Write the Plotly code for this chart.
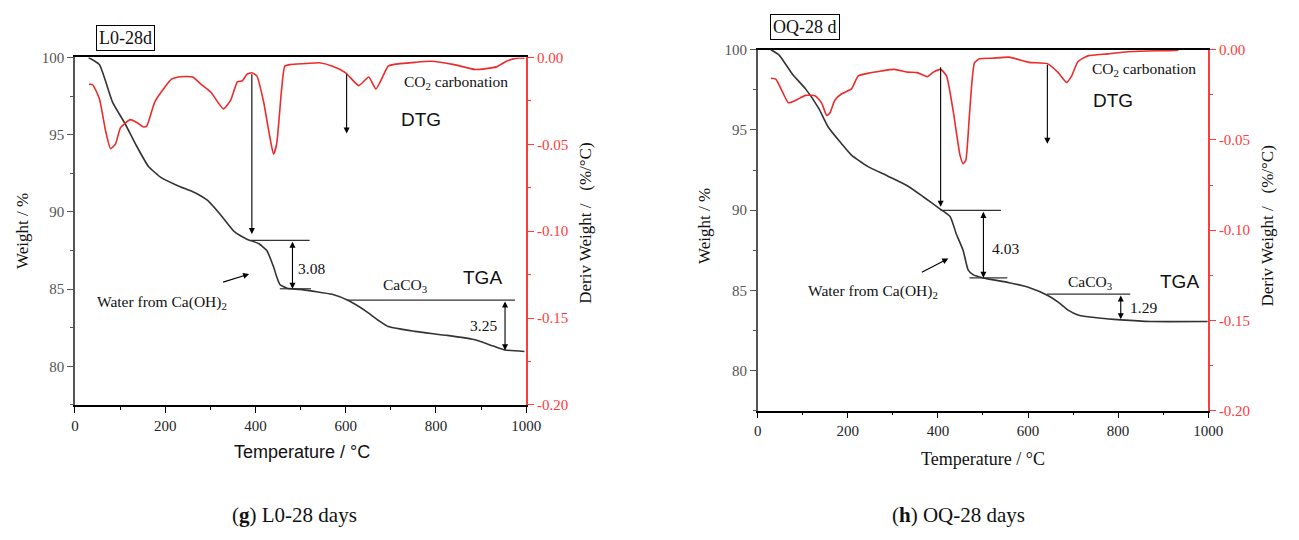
import plotly.graph_objects as go

# ---------------- data ----------------
L_tga_T = [30, 54, 83, 112, 134, 163, 192, 229, 265, 294, 323, 352, 381, 407, 425, 440, 447, 454, 470, 498, 530, 570, 607, 643, 672, 694, 753, 825, 884, 927, 953, 996]
L_tga_W = [100, 99.54, 97.13, 95.66, 94.41, 92.94, 92.2, 91.68, 91.26, 90.74, 89.8, 88.75, 88.23, 87.95, 87.5, 86.44, 85.8, 85.3, 85.05, 84.98, 84.85, 84.66, 84.24, 83.6, 82.98, 82.57, 82.26, 82.0, 81.73, 81.31, 81.06, 80.96]

L_dtg_T = [31, 39, 54, 68, 79, 90, 101, 123, 138, 152, 159, 177, 199, 214, 229, 261, 279, 301, 329, 345, 360, 371, 381, 392, 403, 418, 432, 440, 447, 458, 465, 476, 512, 541, 571, 600, 629, 651, 667, 694, 705, 753, 789, 840, 887, 934, 956, 978, 996]
L_dtg_D = [-0.0155, -0.0156, -0.0236, -0.0423, -0.0525, -0.0497, -0.0404, -0.0358, -0.0376, -0.0400, -0.0395, -0.0255, -0.0171, -0.0125, -0.0112, -0.0112, -0.0153, -0.0199, -0.0296, -0.0246, -0.0140, -0.0134, -0.0097, -0.0088, -0.0106, -0.0255, -0.0460, -0.0557, -0.0497, -0.0181, -0.0050, -0.0041, -0.0035, -0.0030, -0.0050, -0.0088, -0.0162, -0.0112, -0.0181, -0.0050, -0.0041, -0.0028, -0.0022, -0.0041, -0.0069, -0.0054, -0.0022, -0.0004, -0.0004]

R_tga_T = [29, 47, 77, 106, 135, 157, 186, 208, 244, 288, 332, 368, 405, 427, 441, 456, 467, 478, 500, 558, 602, 645, 667, 689, 711, 762, 806, 872, 999]
R_tga_W = [100, 99.68, 98.47, 97.56, 96.36, 95.15, 94.14, 93.43, 92.73, 92.13, 91.52, 90.82, 90.07, 89.61, 88.5, 87.49, 86.28, 85.98, 85.78, 85.48, 85.18, 84.67, 84.27, 83.77, 83.47, 83.26, 83.16, 83.06, 83.06]

R_dtg_T = [29, 40, 55, 68, 84, 106, 128, 142, 153, 160, 171, 186, 208, 223, 244, 274, 303, 332, 354, 376, 390, 406, 419, 434, 449, 456, 462, 470, 481, 492, 521, 558, 602, 643, 667, 686, 697, 711, 733, 777, 821, 864, 908, 934]
R_dtg_D = [-0.0158, -0.0163, -0.0235, -0.0294, -0.0280, -0.0253, -0.0256, -0.0297, -0.0364, -0.0351, -0.0280, -0.0244, -0.0217, -0.0145, -0.0131, -0.0118, -0.0109, -0.0124, -0.0127, -0.0149, -0.0124, -0.0109, -0.0145, -0.0342, -0.0584, -0.0632, -0.0611, -0.0360, -0.0074, -0.0050, -0.0047, -0.0041, -0.0070, -0.0077, -0.0127, -0.0181, -0.0145, -0.0065, -0.0034, -0.0023, -0.0011, -0.0007, -0.0005, -0.0002]

x_ticks = [0, 200, 400, 600, 800, 1000]
w_ticks = [80, 85, 90, 95, 100]
d_ticks = [0.0, -0.05, -0.10, -0.15, -0.20]
d_labels = ["0.00", "-0.05", "-0.10", "-0.15", "-0.20"]

# annotation values
L_ann = {"hl1": (390, 520, 88.16), "hl2": (454, 523, 85.02), "da1": (482, 88.16, 85.02, "3.08"),
         "hl3": (603, 975, 84.29), "da2": (953, 84.29, 81.04, "3.25"),
         "ar1": (392, 99.01, 88.56), "ar2": (602, 99.01, 95.08)}
R_ann = {"hl1": (406, 540, 89.99), "hl2": (470, 554, 85.78), "da1": (501, 89.99, 85.78, "4.03"),
         "hl3": (642, 827, 84.77), "da2": (806, 84.77, 83.2, "1.29"),
         "ar1": (406, 99.0, 90.21), "ar2": (643, 99.16, 94.14)}

SERIF = "Liberation Serif"
SANS = "Liberation Sans"
RED = "#ff3a3a"
CURVE_RED = "#ee2a2a"
DARK = "#333333"

fig = go.Figure()
fig.add_trace(go.Scatter(x=L_tga_T, y=L_tga_W, mode="lines", line=dict(color=DARK, width=1.6, shape="spline", smoothing=0.5), xaxis="x", yaxis="y", showlegend=False))
fig.add_trace(go.Scatter(x=L_dtg_T, y=L_dtg_D, mode="lines", line=dict(color=CURVE_RED, width=1.6, shape="spline", smoothing=0.5), xaxis="x", yaxis="y2", showlegend=False))
fig.add_trace(go.Scatter(x=R_tga_T, y=R_tga_W, mode="lines", line=dict(color=DARK, width=1.6, shape="spline", smoothing=0.5), xaxis="x2", yaxis="y3", showlegend=False))
fig.add_trace(go.Scatter(x=R_dtg_T, y=R_dtg_D, mode="lines", line=dict(color=CURVE_RED, width=1.6, shape="spline", smoothing=0.5), xaxis="x2", yaxis="y4", showlegend=False))

W, H = 1299, 540
def px(x): return x / W
def py(y): return 1 - y / H

def xax(dom, anchor):
    return dict(domain=dom, anchor=anchor, range=[0, 1000], tickmode="array", tickvals=x_ticks, ticks="outside", ticklen=6,
                tickcolor="#000", showline=True, linecolor="#000", linewidth=1.5, mirror=True,
                showgrid=False, zeroline=False, tickfont=dict(family=SERIF, size=15, color="#222"),
                minor=dict(dtick=100, ticks="outside", ticklen=3, tickcolor="#000"))

def wax(dom, anchor):
    return dict(domain=dom, anchor=anchor, range=[77.5, 100], tickmode="array", tickvals=w_ticks, ticks="outside", ticklen=6,
                tickcolor="#555", showline=True, linecolor="#555", linewidth=1.5, showgrid=False,
                zeroline=False, tickfont=dict(family=SERIF, size=15, color="#555"),
                minor=dict(dtick=2.5, ticks="outside", ticklen=3, tickcolor="#555"))

def dax(over, anchor):
    return dict(overlaying=over, anchor=anchor, side="right", range=[-0.2, 0], tickmode="array", tickvals=d_ticks,
                ticktext=d_labels, ticks="outside", ticklen=6, tickcolor=RED, showline=True,
                linecolor=RED, linewidth=1.5, showgrid=False, zeroline=False,
                tickfont=dict(family=SERIF, size=15, color=RED),
                minor=dict(dtick=0.025, ticks="outside", ticklen=3, tickcolor=RED))

fig.update_layout(
    width=W, height=H, margin=dict(l=0, r=0, t=0, b=0),
    paper_bgcolor="white", plot_bgcolor="white",
    font=dict(family=SERIF, size=15, color="#111"),
    xaxis=xax([px(72), px(530)], "y"),
    yaxis=wax([py(409), py(51)], "x"),
    yaxis2=dax("y", "x"),
    xaxis2=xax([px(765), px(1222)], "y3"),
    yaxis3=wax([py(415), py(43)], "x2"),
    yaxis4=dax("y3", "x2"),
)

shapes = []
anns = []

def panel(ann, xr, yr, labels):
    for k in ("hl1", "hl2", "hl3"):
        x0, x1, yv = ann[k]
        shapes.append(dict(type="line", xref=xr, yref=yr, x0=x0, x1=x1, y0=yv, y1=yv, line=dict(color=DARK, width=1.2)))
    for k in ("da1", "da2"):
        xv, y0, y1, _ = ann[k]
        anns.append(dict(x=xv, y=y1, ax=xv, ay=y0, xref=xr, yref=yr, axref=xr, ayref=yr, text="", showarrow=True,
                         arrowhead=2, arrowside="end+start", arrowsize=1.1, arrowwidth=1.1, arrowcolor="#000"))
    for k in ("ar1", "ar2"):
        xv, y0, y1 = ann[k]
        anns.append(dict(x=xv, y=y1, ax=xv, ay=y0, xref=xr, yref=yr, axref=xr, ayref=yr, text="", showarrow=True,
                         arrowhead=2, arrowsize=1.1, arrowwidth=1.1, arrowcolor="#000"))
    for (t, xv, yv, fam, sz, xa) in labels:
        anns.append(dict(x=xv, y=yv, xref=xr, yref=yr, text=t, showarrow=False, xanchor=xa, yanchor="middle",
                         font=dict(family=fam, size=sz, color="#111")))

panel(L_ann, "x", "y", [
    ("Water from Ca(OH)<sub>2</sub>", 194, 84.16, SERIF, 15.5, "center"),
    ("CaCO<sub>3</sub>", 731, 85.23, SERIF, 15.5, "center"),
    ("TGA", 904, 85.73, SANS, 19, "center"),
    ("3.08", 489, 86.36, SERIF, 15.5, "left"),
    ("3.25", 906, 82.65, SERIF, 15.5, "center"),
    ("CO<sub>2</sub> carbonation", 845, 98.37, SERIF, 15.5, "center"),
    ("DTG", 766, 95.98, SANS, 19, "center"),
])
panel(R_ann, "x2", "y3", [
    ("Water from Ca(OH)<sub>2</sub>", 256, 84.95, SERIF, 15.5, "center"),
    ("CaCO<sub>3</sub>", 737, 85.5, SERIF, 15.5, "center"),
    ("TGA", 937, 85.56, SANS, 19, "center"),
    ("4.03", 516, 87.61, SERIF, 15.5, "left"),
    ("1.29", 821, 83.93, SERIF, 15.5, "left"),
    ("CO<sub>2</sub> carbonation", 858, 98.79, SERIF, 15.5, "center"),
    ("DTG", 788, 96.86, SANS, 19, "center"),
])

# "water" pointer arrows
anns.append(dict(x=386, y=85.98, ax=325, ay=85.42, xref="x", yref="y", axref="x", ayref="y", text="", showarrow=True,
                 arrowhead=2, arrowsize=1.1, arrowwidth=1.1, arrowcolor="#000"))
anns.append(dict(x=423, y=86.99, ax=361, ay=86.08, xref="x2", yref="y3", axref="x2", ayref="y3", text="", showarrow=True,
                 arrowhead=2, arrowsize=1.1, arrowwidth=1.1, arrowcolor="#000"))

def ptxt(t, x, y, fam, sz, color="#111", angle=0, **kw):
    d = dict(x=px(x), y=py(y), xref="paper", yref="paper", text=t, showarrow=False, textangle=angle,
             xanchor="center", yanchor="middle", font=dict(family=fam, size=sz, color=color))
    d.update(kw)
    anns.append(d)

# axis titles
ptxt("Weight / %", 18, 230, SERIF, 17, angle=-90)
ptxt("Deriv Weight /\u00a0\u00a0\u00a0(%/°C)", 590, 222, SERIF, 17, angle=-90)
ptxt("Temperature / °C", 302, 458, SANS, 18)
ptxt("Weight / %", 711, 225, SERIF, 17, angle=-90)
ptxt("Deriv Weight /\u00a0\u00a0\u00a0(%/°C)", 1282, 225, SERIF, 17, angle=-90)
ptxt("Temperature / °C", 994, 465, SERIF, 18)

# sample boxes
ptxt("L0-28d", 123, 31, SERIF, 18, bordercolor="#000", borderwidth=1, borderpad=2, bgcolor="white")
ptxt("OQ-28 d", 813, 20, SERIF, 18, bordercolor="#000", borderwidth=1, borderpad=2, bgcolor="white")

# captions
ptxt("(<b>g</b>) L0-28 days", 295, 522, SERIF, 21)
ptxt("(<b>h</b>) OQ-28 days", 969, 522, SERIF, 21)

fig.update_layout(shapes=shapes, annotations=anns)
fig.write_html("out.html")
